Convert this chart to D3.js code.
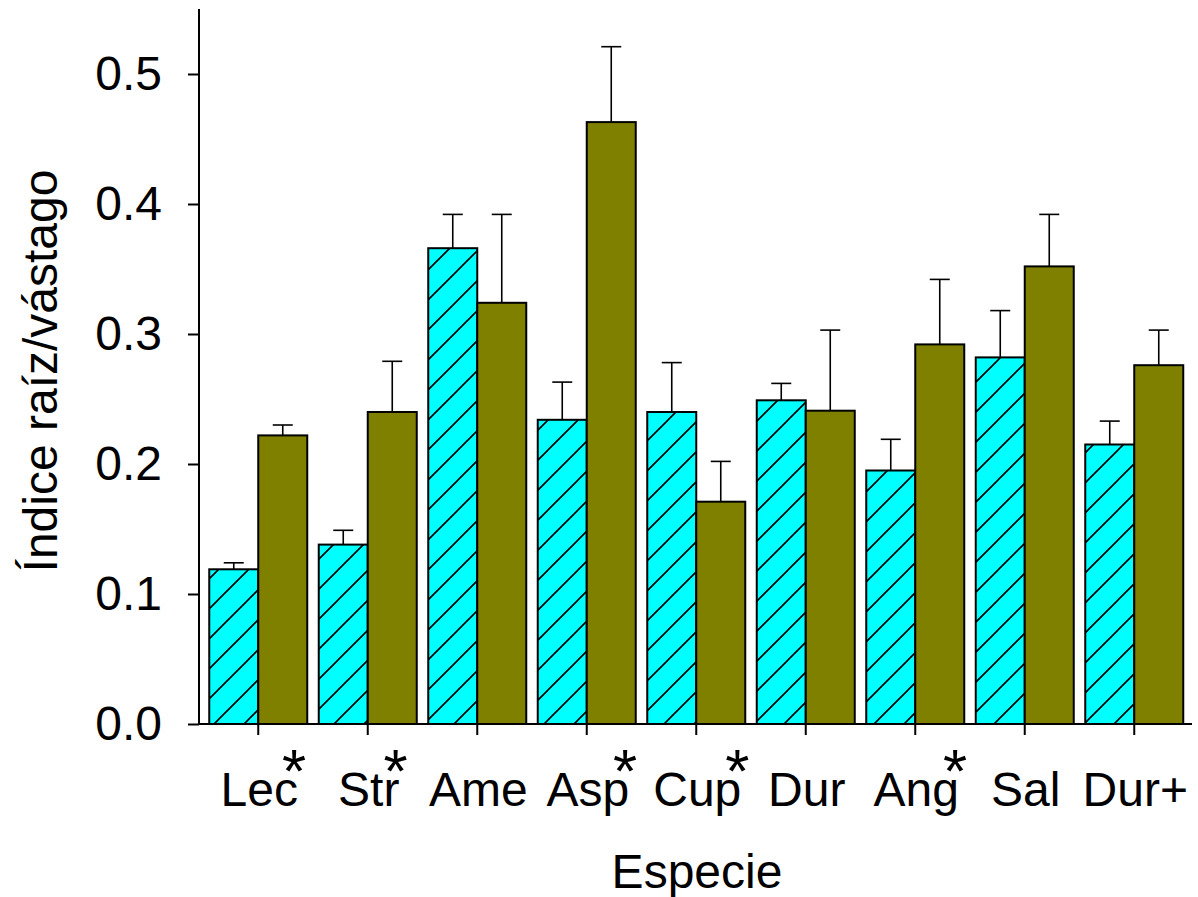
<!DOCTYPE html>
<html>
<head>
<meta charset="utf-8">
<script src="https://cdn.jsdelivr.net/npm/d3@7"></script>
<style>
  html, body { margin: 0; padding: 0; background: #fff; }
  svg { display: block; font-family: "Liberation Sans", Arial, sans-serif; }
</style>
</head>
<body>
<svg id="chart" width="1198" height="897"></svg>
<script>
const categories = ["Lec", "Str", "Ame", "Asp", "Cup", "Dur", "Ang", "Sal", "Dur+"];
const significant = [true, true, false, true, true, false, true, false, false];
const cyanValues  = [0.119, 0.138, 0.366, 0.234, 0.240, 0.249, 0.195, 0.282, 0.215];
const cyanErrors  = [0.005, 0.011, 0.026, 0.029, 0.038, 0.013, 0.024, 0.036, 0.018];
const oliveValues = [0.222, 0.240, 0.324, 0.463, 0.171, 0.241, 0.292, 0.352, 0.276];
const oliveErrors = [0.008, 0.039, 0.068, 0.058, 0.031, 0.062, 0.050, 0.040, 0.027];
const yTicks = [0.0, 0.1, 0.2, 0.3, 0.4, 0.5];
const yLabel = "Índice raíz/vástago";
const xLabel = "Especie";

const svg = d3.select("#chart");
const FONT = 48;

const y = d3.scaleLinear().domain([0, 0.55]).range([724, 9]);
const x = d3.scaleBand().domain(categories).range([203.5, 203.5 + 9 * 109.5]).padding(0);
const gap = 11.5;
const barW = (x.bandwidth() - gap) / 2;

// hatch pattern
const defs = svg.append("defs");
const pat = defs.append("pattern")
  .attr("id", "hatch")
  .attr("patternUnits", "userSpaceOnUse")
  .attr("width", 30).attr("height", 30)
  .attr("x", 8).attr("y", 0);
pat.append("rect").attr("width", 30).attr("height", 30).attr("fill", "#00ffff");
pat.append("path")
  .attr("d", "M0,30 L30,0 M-7.5,7.5 L7.5,-7.5 M22.5,37.5 L37.5,22.5")
  .attr("stroke", "#000").attr("stroke-width", 1.6);

const series = [
  { vals: cyanValues, errs: cyanErrors, fill: "url(#hatch)", off: gap / 2 },
  { vals: oliveValues, errs: oliveErrors, fill: "#808000", off: gap / 2 + barW }
];

series.forEach(s => {
  const g = svg.append("g");
  categories.forEach((c, i) => {
    const bx = x(c) + s.off;
    const cx = bx + barW / 2;
    g.append("line")
      .attr("x1", cx).attr("x2", cx)
      .attr("y1", y(s.vals[i])).attr("y2", y(s.vals[i] + s.errs[i]))
      .attr("stroke", "#000").attr("stroke-width", 1.6);
    g.append("line")
      .attr("x1", cx - 10).attr("x2", cx + 10)
      .attr("y1", y(s.vals[i] + s.errs[i])).attr("y2", y(s.vals[i] + s.errs[i]))
      .attr("stroke", "#000").attr("stroke-width", 1.6);
    g.append("rect")
      .attr("x", bx).attr("width", barW)
      .attr("y", y(s.vals[i])).attr("height", y(0) - y(s.vals[i]))
      .attr("fill", s.fill)
      .attr("stroke", "#000").attr("stroke-width", 2);
  });
});

// y axis
const yAxis = d3.axisLeft(y).tickValues(yTicks).tickFormat(d3.format(".1f")).tickSize(11).tickPadding(26);
const yg = svg.append("g").attr("transform", "translate(199,0)").call(yAxis);
yg.select(".domain").attr("d", `M0,${y(0.55)}V${y(0)}`).attr("stroke", "#000").attr("stroke-width", 2);
yg.selectAll(".tick line").attr("stroke", "#000").attr("stroke-width", 2);
yg.selectAll(".tick text").attr("font-size", FONT).attr("fill", "#000")
  .attr("font-family", "Liberation Sans, Arial, sans-serif");

// x axis
const xAxis = d3.axisBottom(x).tickSize(11).tickFormat("");
const xg = svg.append("g").attr("transform", `translate(0,${y(0)})`).call(xAxis);
xg.select(".domain").attr("d", "M199,0H1192").attr("stroke", "#000").attr("stroke-width", 2);
xg.selectAll(".tick line").attr("stroke", "#000").attr("stroke-width", 2);

// category labels (asterisk as raised tspan inside the same text)
categories.forEach((c, i) => {
  const cx = x(c) + x.bandwidth() / 2 + 1;
  const t = svg.append("text")
    .attr("y", 806)
    .attr("text-anchor", "start")
    .attr("font-size", FONT).attr("fill", "#000");
  const main = t.append("tspan").text(c);
  const w = main.node().getComputedTextLength();
  t.attr("x", cx - w / 2);
  if (significant[i]) {
    t.append("tspan")
      .attr("dx", -16).attr("dy", -14)
      .attr("font-size", 62)
      .text("*");
  }
});

// axis titles
svg.append("text")
  .attr("transform", "translate(57,371) rotate(-90)")
  .attr("text-anchor", "middle")
  .attr("font-size", FONT).attr("fill", "#000")
  .text(yLabel);

svg.append("text")
  .attr("x", 697).attr("y", 888)
  .attr("text-anchor", "middle")
  .attr("font-size", FONT).attr("fill", "#000")
  .text(xLabel);
</script>
</body>
</html>
